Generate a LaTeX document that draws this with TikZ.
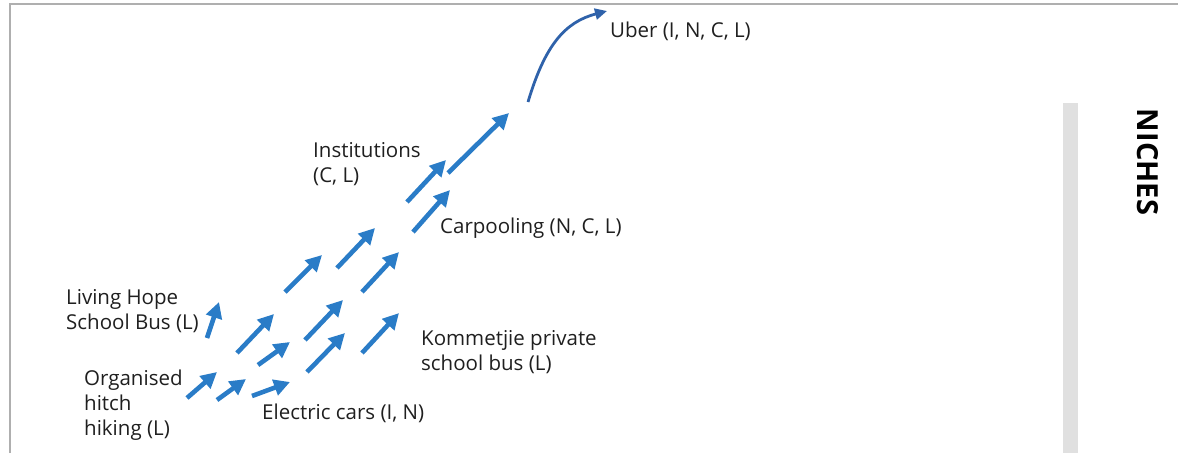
\documentclass[tikz,border=0pt]{standalone}
\usepackage{fontspec}
\setmainfont{Open Sans}
\usetikzlibrary{arrows.meta}
\definecolor{flowblue}{HTML}{2A7CC7}
\definecolor{uberblue}{HTML}{2F62AA}
\definecolor{framegray}{HTML}{AFAFAF}
\definecolor{bargray}{HTML}{E0E0E0}
\tikzset{
  push/.style={flowblue, line width=4.6pt, -{Triangle[length=16pt,width=16pt]}},
  leap/.style={uberblue, line width=2.8pt, -{Triangle[length=12pt,width=11pt]}},
  label/.style={anchor=west, align=left, inner sep=0pt, font=\fontsize{20.5}{25}\selectfont, text=black!88},
}
\begin{document}
\begin{tikzpicture}[x=1pt, y=-1pt]
\useasboundingbox (0,0) rectangle (1178,453);
% frame edges
\draw[framegray, line width=2pt] (10,453) -- (10,4) -- (1178,4);
% level bar and heading
\fill[bargray] (1063,103) rectangle (1078,453);
\node[font=\bfseries\fontsize{29}{32}\selectfont, rotate=-90] (niches) at (1148,162) {NICHES};

% labels
\node[label] (uber) at (610,31) {Uber (I, N, C, L)};
\node[label] (inst) at (313,164.5) {Institutions\\(C, L)};
\node[label] (carp) at (440,228) {Carpooling (N, C, L)};
\node[label] (hope) at (66,311.5) {Living Hope\\School Bus (L)};
\node[label] (hitch) at (84,405) {Organised\\hitch\\hiking (L)};
\node[label] (elec) at (262,413) {Electric cars (I, N)};
\node[label] (komm) at (421,352) {Kommetjie private\\school bus (L)};

% small arrows
\draw[push] (207,338) -- (219,302);
\draw[push] (237,353) -- (274,314);
\draw[push] (258,365) -- (290,342);
\draw[push] (187,398) -- (217,372);
\draw[push] (217,400) -- (246,379);
\draw[push] (252,396) -- (290,382);
\draw[push] (285,292) -- (322,255);
\draw[push] (337,268) -- (375,228);
\draw[push] (362,292) -- (399,252);
\draw[push] (305,340) -- (343,300);
\draw[push] (307,372) -- (345,333);
\draw[push] (362,353) -- (399,313);
\draw[push] (407,202) -- (446,160);
\draw[push] (413,232) -- (450,190);
\draw[push] (448,173) -- (509,113);
% curved arrow to Uber
\draw[leap] (528,102) .. controls (545,45) and (565,22) .. (607,11);
\end{tikzpicture}
\end{document}
